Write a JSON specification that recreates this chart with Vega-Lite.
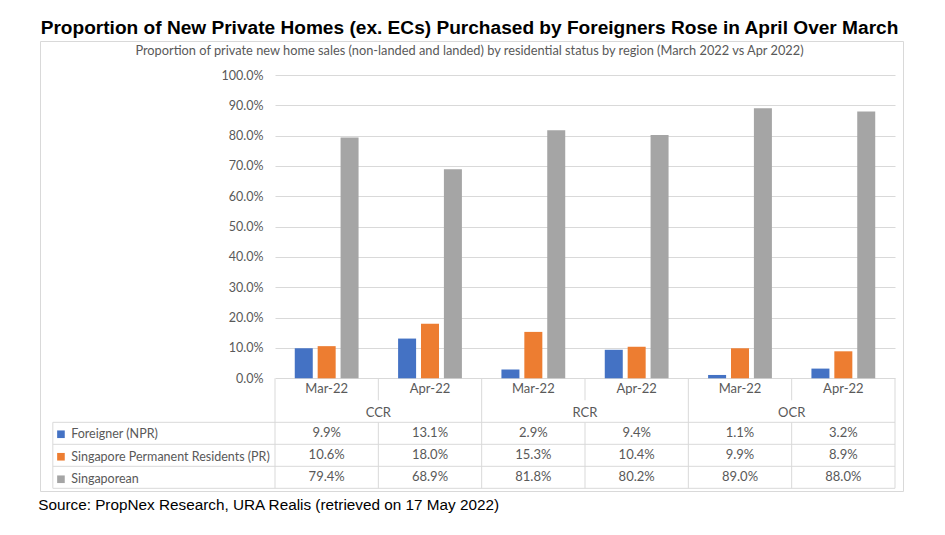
{
  "$schema": "https://vega.github.io/schema/vega-lite/v6.json",
  "width": 863,
  "height": 450,
  "autosize": "none",
  "padding": {"left": 40, "top": 41, "right": 42, "bottom": 44},
  "background": "white",
  "title": {
    "text": "Proportion of New Private Homes (ex. ECs) Purchased by Foreigners Rose in April Over March",
    "subtitle": "Proportion of private new home sales (non-landed and landed) by residential status by region (March 2022 vs Apr 2022)",
    "anchor": "middle",
    "frame": "group",
    "dx": -2,
    "offset": -17,
    "font": "Liberation Sans",
    "fontSize": 19.1,
    "fontWeight": "bold",
    "color": "#000000",
    "subtitleFont": "Lato",
    "subtitleFontSize": 12.8,
    "subtitleColor": "#595959",
    "subtitlePadding": 7
  },
  "data": {
    "values": [
      {"key": "CCR Mar-22", "region": "CCR", "month": "Mar-22", "series": "Foreigner (NPR)", "value": 0.099},
      {"key": "CCR Mar-22", "region": "CCR", "month": "Mar-22", "series": "Singapore Permanent Residents (PR)", "value": 0.106},
      {"key": "CCR Mar-22", "region": "CCR", "month": "Mar-22", "series": "Singaporean", "value": 0.794},
      {"key": "CCR Apr-22", "region": "CCR", "month": "Apr-22", "series": "Foreigner (NPR)", "value": 0.131},
      {"key": "CCR Apr-22", "region": "CCR", "month": "Apr-22", "series": "Singapore Permanent Residents (PR)", "value": 0.18},
      {"key": "CCR Apr-22", "region": "CCR", "month": "Apr-22", "series": "Singaporean", "value": 0.689},
      {"key": "RCR Mar-22", "region": "RCR", "month": "Mar-22", "series": "Foreigner (NPR)", "value": 0.029},
      {"key": "RCR Mar-22", "region": "RCR", "month": "Mar-22", "series": "Singapore Permanent Residents (PR)", "value": 0.153},
      {"key": "RCR Mar-22", "region": "RCR", "month": "Mar-22", "series": "Singaporean", "value": 0.818},
      {"key": "RCR Apr-22", "region": "RCR", "month": "Apr-22", "series": "Foreigner (NPR)", "value": 0.094},
      {"key": "RCR Apr-22", "region": "RCR", "month": "Apr-22", "series": "Singapore Permanent Residents (PR)", "value": 0.104},
      {"key": "RCR Apr-22", "region": "RCR", "month": "Apr-22", "series": "Singaporean", "value": 0.802},
      {"key": "OCR Mar-22", "region": "OCR", "month": "Mar-22", "series": "Foreigner (NPR)", "value": 0.011},
      {"key": "OCR Mar-22", "region": "OCR", "month": "Mar-22", "series": "Singapore Permanent Residents (PR)", "value": 0.099},
      {"key": "OCR Mar-22", "region": "OCR", "month": "Mar-22", "series": "Singaporean", "value": 0.89},
      {"key": "OCR Apr-22", "region": "OCR", "month": "Apr-22", "series": "Foreigner (NPR)", "value": 0.032},
      {"key": "OCR Apr-22", "region": "OCR", "month": "Apr-22", "series": "Singapore Permanent Residents (PR)", "value": 0.089},
      {"key": "OCR Apr-22", "region": "OCR", "month": "Apr-22", "series": "Singaporean", "value": 0.88}
    ]
  },
  "resolve": {"scale": {"y": "independent"}, "axis": {"y": "independent"}},
  "layer": [
    {
      "mark": {"type": "bar"},
      "encoding": {
        "x": {
          "field": "key", "type": "nominal",
          "scale": {"domain": ["CCR Mar-22", "CCR Apr-22", "RCR Mar-22", "RCR Apr-22", "OCR Mar-22", "OCR Apr-22"], "range": [235, 855], "paddingInner": 0, "paddingOuter": 0},
          "axis": null
        },
        "xOffset": {
          "field": "series", "type": "nominal",
          "sort": ["Foreigner (NPR)", "Singapore Permanent Residents (PR)", "Singaporean"],
          "scale": {"paddingInner": 0.214, "paddingOuter": 0.863}
        },
        "y": {
          "field": "value", "type": "quantitative",
          "scale": {"domain": [0, 1], "range": [337.3, 34], "nice": false, "zero": true},
          "axis": {
            "orient": "left", "offset": -235, "values": [0, 0.1, 0.2, 0.3, 0.4, 0.5, 0.6, 0.7, 0.8, 0.9, 1],
            "format": ".1%", "labelPadding": 12, "ticks": false, "tickSize": 0, "domain": false,
            "grid": true, "gridColor": "#d9d9d9", "gridWidth": 1,
            "labelFont": "Lato", "labelFontSize": 12.5, "labelColor": "#595959",
            "title": "Source: PropNex Research, URA Realis (retrieved on 17 May 2022)",
            "titleFont": "Liberation Sans", "titleFontSize": 15.3, "titleFontWeight": "normal", "titleColor": "#000000",
            "titleAngle": 0, "titleAlign": "left", "titleBaseline": "alphabetic", "titleX": -237.3, "titleY": 468.5
          }
        },
        "color": {
          "field": "series", "type": "nominal",
          "scale": {"domain": ["Foreigner (NPR)", "Singapore Permanent Residents (PR)", "Singaporean"], "range": ["#4472C4", "#ED7D31", "#A5A5A5"]},
          "legend": {
            "orient": "none", "legendX": 14.7, "legendY": 387, "title": null, "direction": "vertical",
            "symbolType": "square", "symbolSize": 58, "symbolStrokeWidth": 0, "symbolOpacity": 1,
            "labelFont": "Lato", "labelFontSize": 12.5, "labelColor": "#595959", "labelLimit": 400,
            "rowPadding": 9.5, "padding": 0, "labelOffset": 4
          }
        }
      }
    },
    {
      "layer": [
        {
          "transform": [{"filter": "datum.series === 'Singaporean'"}],
          "mark": {"type": "text", "font": "Lato", "fontSize": 13, "color": "#595959", "align": "center", "baseline": "middle"},
          "encoding": {
            "x": {"field": "key", "type": "nominal", "axis": null},
            "y": {
              "datum": "month", "type": "nominal",
              "scale": {"type": "band", "domain": ["month", "region", "Foreigner (NPR)", "Singapore Permanent Residents (PR)", "Singaporean"], "range": [337.3, 447.3], "paddingInner": 0, "paddingOuter": 0},
              "axis": null
            },
            "text": {"field": "month"}
          }
        },
        {
          "transform": [{"filter": "datum.series === 'Singaporean' && datum.month === 'Apr-22'"}],
          "mark": {"type": "text", "font": "Lato", "fontSize": 13, "color": "#595959", "align": "center", "baseline": "middle", "dy": 1.5},
          "encoding": {
            "x": {"field": "key", "type": "nominal", "bandPosition": 0, "axis": null},
            "y": {"datum": "region", "type": "nominal", "axis": null},
            "text": {"field": "region"}
          }
        },
        {
          "mark": {"type": "text", "font": "Lato", "fontSize": 13, "color": "#595959", "align": "center", "baseline": "middle"},
          "encoding": {
            "x": {"field": "key", "type": "nominal", "axis": null},
            "y": {"field": "series", "type": "nominal", "axis": null},
            "text": {"field": "value", "type": "quantitative", "format": ".1%"}
          }
        },
        {
          "transform": [{"filter": "datum.series === 'Singaporean' && datum.month === 'Mar-22'"}],
          "mark": {"type": "rule", "color": "#d9d9d9", "strokeWidth": 1},
          "encoding": {
            "x": {"field": "key", "type": "nominal", "bandPosition": 0, "axis": null},
            "y": {"datum": "month", "type": "nominal", "bandPosition": 0, "axis": null},
            "y2": {"datum": "Singaporean", "bandPosition": 1}
          }
        },
        {
          "transform": [{"filter": "datum.series === 'Singaporean' && datum.key === 'OCR Apr-22'"}],
          "mark": {"type": "rule", "color": "#d9d9d9", "strokeWidth": 1},
          "encoding": {
            "x": {"field": "key", "type": "nominal", "bandPosition": 1, "axis": null},
            "y": {"datum": "month", "type": "nominal", "bandPosition": 0, "axis": null},
            "y2": {"datum": "Singaporean", "bandPosition": 1}
          }
        },
        {
          "transform": [{"filter": "datum.series === 'Singaporean' && datum.month === 'Apr-22'"}],
          "mark": {"type": "rule", "color": "#d9d9d9", "strokeWidth": 1},
          "encoding": {
            "x": {"field": "key", "type": "nominal", "bandPosition": 0, "axis": null},
            "y": {"datum": "month", "type": "nominal", "bandPosition": 0, "axis": null},
            "y2": {"datum": "month", "bandPosition": 1}
          }
        },
        {
          "transform": [{"filter": "datum.series === 'Singaporean' && datum.month === 'Apr-22'"}],
          "mark": {"type": "rule", "color": "#d9d9d9", "strokeWidth": 1},
          "encoding": {
            "x": {"field": "key", "type": "nominal", "bandPosition": 0, "axis": null},
            "y": {"datum": "Foreigner (NPR)", "type": "nominal", "bandPosition": 0, "axis": null},
            "y2": {"datum": "Singaporean", "bandPosition": 1}
          }
        },
        {
          "transform": [{"filter": "datum.key === 'CCR Mar-22'"}],
          "mark": {"type": "rule", "color": "#d9d9d9", "strokeWidth": 1},
          "encoding": {
            "x": {"field": "key", "type": "nominal", "bandPosition": -2.15, "axis": null},
            "x2": {"datum": "OCR Apr-22", "bandPosition": 1},
            "y": {"field": "series", "type": "nominal", "bandPosition": 0, "axis": null}
          }
        },
        {
          "transform": [{"filter": "datum.key === 'CCR Mar-22' && datum.series === 'Singaporean'"}],
          "mark": {"type": "rule", "color": "#d9d9d9", "strokeWidth": 1},
          "encoding": {
            "x": {"field": "key", "type": "nominal", "bandPosition": -2.15, "axis": null},
            "x2": {"datum": "OCR Apr-22", "bandPosition": 1},
            "y": {"field": "series", "type": "nominal", "bandPosition": 1, "axis": null}
          }
        },
        {
          "transform": [{"filter": "datum.key === 'CCR Mar-22' && datum.series === 'Singaporean'"}],
          "mark": {"type": "rule", "color": "#d9d9d9", "strokeWidth": 1},
          "encoding": {
            "x": {"field": "key", "type": "nominal", "bandPosition": -2.15, "axis": null},
            "y": {"datum": "Foreigner (NPR)", "type": "nominal", "bandPosition": 0, "axis": null},
            "y2": {"datum": "Singaporean", "bandPosition": 1}
          }
        }
      ]
    }
  ],
  "config": {
    "view": {"stroke": "#d9d9d9", "strokeWidth": 1},
    "text": {"font": "Lato"}
  }
}
